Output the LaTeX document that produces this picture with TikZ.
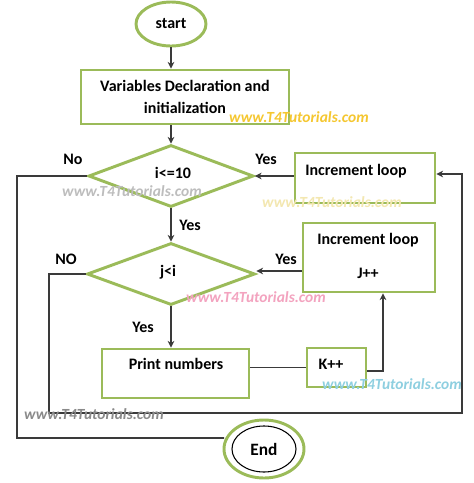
\documentclass[tikz,border=0pt]{standalone}
\usepackage{fontspec}
\setmainfont{Carlito}
\usetikzlibrary{shapes.geometric,arrows.meta,calc}
\definecolor{lgreen}{HTML}{9BBB59}
\definecolor{conn}{HTML}{3A3A3A}
\definecolor{wmyellow}{HTML}{F5C730}
\definecolor{wmgray}{HTML}{BDBDBD}
\definecolor{wmpale}{HTML}{F3E7B0}
\definecolor{wmpink}{HTML}{F3A3BF}
\definecolor{wmblue}{HTML}{8ECFE0}
\definecolor{wmdark}{HTML}{8A8A8A}
\tikzset{
  gbox/.style={draw=lgreen, line width=2.2pt, rectangle, inner sep=0pt, font=\bfseries\fontsize{12}{16}\selectfont, align=center},
  gdia/.style={draw=lgreen, line width=2.2pt, diamond, inner sep=0pt},
  gell/.style={draw=lgreen, line width=2.2pt, ellipse, inner sep=0pt, font=\bfseries\fontsize{12}{15}\selectfont},
  txt/.style={font=\bfseries\fontsize{12}{15}\selectfont, inner sep=0pt},
  lbl/.style={font=\bfseries\fontsize{12}{15}\selectfont, inner sep=0pt},
  conline/.style={draw=conn, line width=0.8pt},
  arr/.style={conline, -{Stealth[length=5pt,width=5pt]}},
  wm/.style={font=\bfseries\itshape\fontsize{11.6}{14}\selectfont, inner sep=0pt}
}
\begin{document}
\begin{tikzpicture}[x=0.75pt,y=-0.75pt]
\path[use as bounding box, fill=white] (0,0) rectangle (474,483);
% nodes
\node[gell, minimum width=52.5pt, minimum height=33pt] (start) at (171,24) {start};
\node[gbox, minimum width=156pt, minimum height=40.5pt] (init) at (185,97) {Variables Declaration and\\initialization};
\node[gdia, minimum width=123.75pt, minimum height=46.5pt] (d1) at (171,176) {};
\node[txt] (d1t) at (173,173) {i<=10};
\node[gbox, minimum width=105pt, minimum height=37.5pt] (inc1) at (365,178) {};
\node[txt] (inc1t) at (356,171) {Increment loop};
\node[gdia, minimum width=126pt, minimum height=46.5pt] (d2) at (171,274) {};
\node[txt] (d2t) at (168,272) {j<i};
\node[gbox, minimum width=99pt, minimum height=51.75pt] (inc2) at (369,257.5) {};
\node[txt] (inc2t) at (368,240) {Increment loop};
\node[txt] (inc2j) at (368,273) {J++};
\node[gbox, minimum width=110.25pt, minimum height=36.75pt] (print) at (175.5,373.5) {};
\node[txt] (printt) at (176,364) {Print numbers};
\node[gbox, minimum width=44.25pt, minimum height=29.25pt] (kpp) at (336.5,367.5) {};
\node[txt] (kppt) at (331,364) {K++};
\node[gell, minimum width=60pt, minimum height=43.5pt] (end) at (264,449) {};
\node[draw=black, line width=0.8pt, ellipse, minimum width=48pt, minimum height=34.5pt, inner sep=0pt, font=\bfseries\fontsize{13}{16}\selectfont] (endin) at (264,449) {End};
% labels
\node[lbl] (lno1) at (73,159) {No};
\node[lbl] (lyes1) at (266,159) {Yes};
\node[lbl] (lyes2) at (190,225) {Yes};
\node[lbl] (lno2) at (66,259) {NO};
\node[lbl] (lyes3) at (286,259) {Yes};
\node[lbl] (lyes4) at (143,327) {Yes};
% coordinates
\coordinate (kup) at (383,371);
\coordinate (l2a) at (49,274);
\coordinate (l2b) at (49,413);
\coordinate (l2c) at (462,413);
\coordinate (l2d) at (462,174);
\coordinate (l1a) at (17,176);
\coordinate (l1b) at (17,438);
\coordinate (l1c) at (224,438);
% connectors
\draw[arr] (start.south) -- (start.south |- init.north);
\draw[arr] (d1.north |- init.south) -- (d1.north);
\draw[arr] (inc1.west |- d1.east) -- (d1.east);
\draw[arr] (d1.south) -- (d2.north);
\draw[arr] (inc2.west |- 0,271) -- (d2.east |- 0,271);
\draw[arr] (d2.south) -- (d2.south |- print.north);
\draw[conline] (print.east |- kpp.west) -- (kpp.west);
\draw[arr] (kpp.east |- kup) -- (kup) -- (kup |- inc2.south);
\draw[arr] (d2.west) -- (l2a) -- (l2b) -- (l2c) -- (l2d) -- (inc1.east |- l2d);
\draw[conline] (d1.west) -- (l1a) -- (l1b) -- (l1c) -- (end.west |- l1c);
% watermarks
\node[wm, text=wmyellow] (wm1) at (299,117) {www.T4Tutorials.com};
\node[wm, text=wmgray] (wm2) at (132,191) {www.T4Tutorials.com};
\node[wm, text=wmpale] (wm3) at (332,202) {www.T4Tutorials.com};
\node[wm, text=wmpink] (wm4) at (256,297) {www.T4Tutorials.com};
\node[wm, text=wmblue] (wm5) at (392,384) {www.T4Tutorials.com};
\node[wm, text=wmdark] (wm6) at (94,414) {www.T4Tutorials.com};
\end{tikzpicture}
\end{document}
